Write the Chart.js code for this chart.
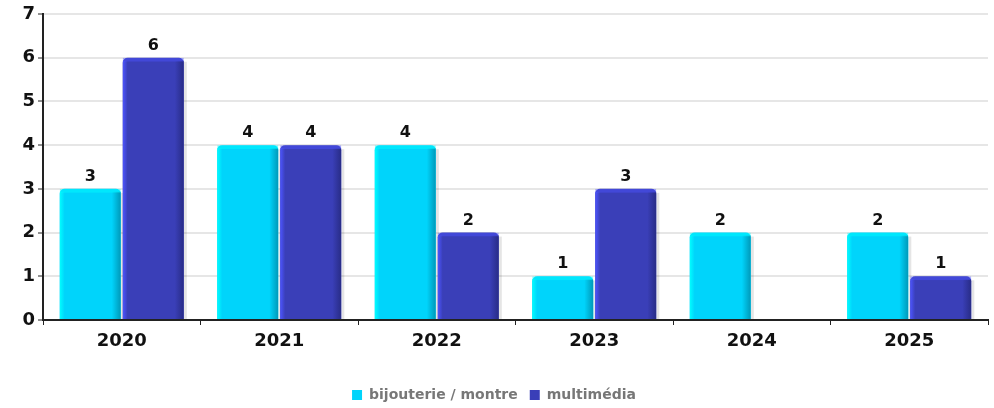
<!DOCTYPE html>
<html>
<head>
<meta charset="utf-8">
<script src="https://cdn.jsdelivr.net/npm/chart.js@4/dist/chart.umd.min.js"></script>
<style>
  html, body { margin: 0; padding: 0; background: #fff; }
  #wrap { width: 994px; height: 408px; }
</style>
</head>
<body>
<div id="wrap"><canvas id="ventes-chart" width="994" height="408"></canvas></div>
<script>
var years = ["2020", "2021", "2022", "2023", "2024", "2025"];
var bijouterie = [3, 4, 4, 1, 2, 2];
var multimedia = [6, 4, 2, 3, 0, 1];
var yTicks = [0, 1, 2, 3, 4, 5, 6, 7];

var FONT = "'DejaVu Sans', sans-serif";

// relief des barres : bord gauche clair, bord droit sombre, petite ombre
var reliefPlugin = {
  id: "relief",
  beforeDatasetsDraw: function(chart) {
    var ctx = chart.ctx;
    chart.data.datasets.forEach(function(ds, i) {
      chart.getDatasetMeta(i).data.forEach(function(bar) {
        var h = bar.base - bar.y;
        if (h <= 0) return;
        var left = bar.x - bar.width / 2;
        ctx.save();
        ctx.fillStyle = "rgba(0,0,0,0.10)";
        ctx.fillRect(left + bar.width, bar.y + 4, 3, h - 4);
        ctx.restore();
      });
    });
  },
  afterDatasetsDraw: function(chart) {
    var ctx = chart.ctx;
    chart.data.datasets.forEach(function(ds, i) {
      chart.getDatasetMeta(i).data.forEach(function(bar, j) {
        var h = bar.base - bar.y;
        if (h <= 0) return;
        var left = bar.x - bar.width / 2;
        var right = left + bar.width;
        ctx.save();
        ctx.beginPath();
        ctx.rect(left, bar.y + 3, bar.width, h - 3);
        ctx.clip();
        // bord gauche
        var gl = ctx.createLinearGradient(left, 0, left + 5, 0);
        gl.addColorStop(0, ds.edgeLight);
        gl.addColorStop(1, ds.backgroundColor);
        ctx.fillStyle = gl;
        ctx.fillRect(left, bar.y, 5, h);
        // bord droit
        var gr = ctx.createLinearGradient(right - 9, 0, right, 0);
        gr.addColorStop(0, ds.backgroundColor);
        gr.addColorStop(1, ds.edgeDark);
        ctx.fillStyle = gr;
        ctx.fillRect(right - 9, bar.y, 9, h);
        ctx.restore();
        // liseré du haut
        ctx.save();
        ctx.beginPath();
        ctx.rect(left, bar.y, bar.width, 4);
        ctx.clip();
        ctx.globalAlpha = 0.45;
        ctx.fillStyle = ds.edgeLight;
        ctx.fillRect(left, bar.y, bar.width, 4);
        ctx.restore();
        // valeur au-dessus
        ctx.save();
        ctx.fillStyle = "#111";
        ctx.font = "bold 16px " + FONT;
        ctx.textAlign = "center";
        ctx.textBaseline = "bottom";
        ctx.fillText(ds.data[j], bar.x, bar.y - 4);
        ctx.restore();
      });
    });
  }
};

new Chart(document.getElementById("ventes-chart"), {
  type: "bar",
  data: {
    labels: years,
    datasets: [
      {
        label: "bijouterie / montre",
        data: bijouterie,
        backgroundColor: "#00d4fb",
        edgeLight: "#00ffff",
        edgeDark: "#0098b8",
        borderRadius: { topLeft: 5, topRight: 5 },
        borderSkipped: "bottom",
        categoryPercentage: 0.8,
        barPercentage: 0.97
      },
      {
        label: "multimédia",
        data: multimedia,
        backgroundColor: "#3a3fb8",
        edgeLight: "#4d55ff",
        edgeDark: "#282c86",
        borderRadius: { topLeft: 5, topRight: 5 },
        borderSkipped: "bottom",
        categoryPercentage: 0.8,
        barPercentage: 0.97
      }
    ]
  },
  options: {
    responsive: false,
    animation: false,
    layout: { padding: { top: 14, right: 6, left: 0, bottom: -4 } },
    plugins: {
      tooltip: { enabled: false },
      legend: {
        position: "bottom",
        labels: {
          boxWidth: 10,
          boxHeight: 10,
          padding: 12,
          color: "#777",
          font: { family: FONT, size: 14, weight: "bold" }
        }
      }
    },
    scales: {
      x: {
        afterFit: function(axis) { axis.height = 56; },
        grid: {
          display: true,
          drawOnChartArea: false,
          offset: true,
          tickLength: 5,
          tickColor: "#222",
          tickWidth: 1
        },
        border: { color: "#222", width: 2 },
        ticks: {
          color: "#111",
          padding: 6,
          font: { family: FONT, size: 18, weight: "bold" }
        }
      },
      y: {
        min: 0,
        max: 7,
        afterBuildTicks: function(axis) {
          axis.ticks = yTicks.map(function(v) { return { value: v }; });
        },
        afterFit: function(axis) { axis.width = 43; },
        grid: {
          color: "#e6e6e6",
          lineWidth: 2,
          tickLength: 5,
          tickColor: "#222",
          tickWidth: 1
        },
        border: { color: "#222", width: 2 },
        ticks: {
          color: "#111",
          padding: 3,
          font: { family: FONT, size: 18, weight: "bold" }
        }
      }
    }
  },
  plugins: [reliefPlugin]
});
</script>
</body>
</html>
